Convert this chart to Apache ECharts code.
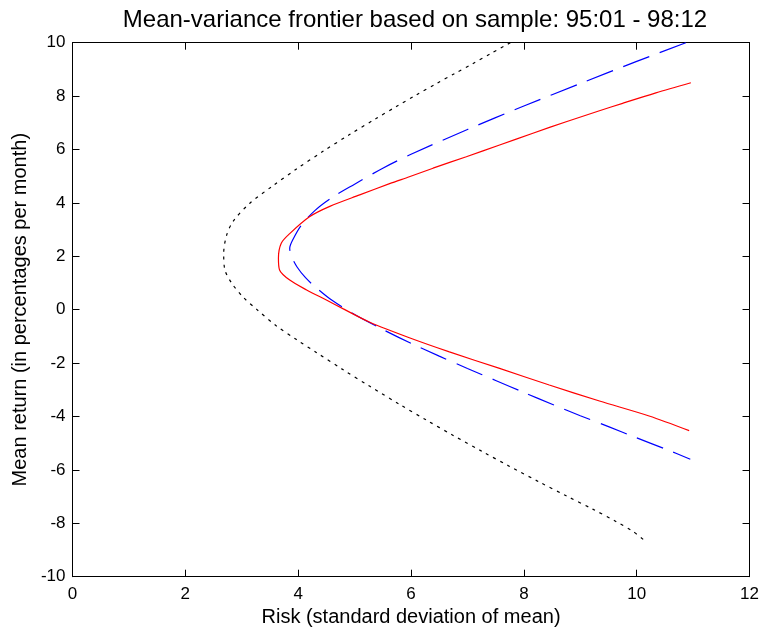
<!DOCTYPE html>
<html>
<head>
<meta charset="utf-8">
<script src="https://cdn.jsdelivr.net/npm/echarts@6/dist/echarts.min.js"></script>
<style>
html,body{margin:0;padding:0;background:#fff;}
#chart{width:762px;height:636px;}
</style>
</head>
<body>
<div id="chart"></div>
<script>
// ---- Data ----
var titleText = "Mean-variance frontier based on sample: 95:01 - 98:12";
var xAxisTitle = "Risk (standard deviation of mean)";
var yAxisTitle = "Mean return (in percentages per month)";

var xTicks = [0, 2, 4, 6, 8, 10, 12];
var yTicks = [-10, -8, -6, -4, -2, 0, 2, 4, 6, 8, 10];

// red solid frontier
var redX = [10.96, 10.34, 9.75, 9.34, 8.75, 8.16, 7.57, 6.98, 6.39, 5.97, 5.62, 5.09, 4.56, 4.2, 3.85, 3.70, 3.65, 3.67, 3.85, 4.15, 4.5, 4.8, 5.27, 5.97, 6.68, 7.57, 8.45, 9.34, 10.22, 10.93];
var redY = [8.5, 8.12, 7.73, 7.45, 7.04, 6.61, 6.17, 5.73, 5.3, 4.98, 4.72, 4.3, 3.87, 3.48, 2.85, 2.49, 1.93, 1.49, 1.11, 0.74, 0.36, 0.03, -0.47, -1.05, -1.58, -2.2, -2.82, -3.42, -3.98, -4.53];

// blue dashed frontier
var blueX = [10.87, 10.0, 9.0, 8.0, 7.0, 6.0, 5.5, 5.0, 4.6, 4.3, 4.05, 3.9, 3.85, 3.88, 3.98, 4.13, 4.31, 4.6, 5.0, 5.5, 6.0, 6.5, 7.0, 7.5, 8.0, 8.5, 9.0, 9.5, 10.0, 10.5, 10.95];
var blueY = [10.0, 9.3, 8.47, 7.63, 6.75, 5.82, 5.3, 4.7, 4.2, 3.72, 3.15, 2.6, 2.3, 2.0, 1.6, 1.2, 0.84, 0.35, -0.18, -0.74, -1.26, -1.74, -2.2, -2.65, -3.1, -3.54, -3.97, -4.38, -4.8, -5.21, -5.6];

// black dotted frontier
var blackX = [7.76, 7.42, 7.09, 6.77, 6.45, 6.09, 5.74, 5.38, 4.91, 4.44, 3.97, 3.55, 3.14, 2.85, 2.73, 2.68, 2.7, 2.82, 3.02, 3.26, 3.61, 3.97, 4.32, 4.79, 5.27, 5.8, 6.27, 6.74, 7.27, 7.74, 8.27, 8.75, 9.22, 9.63, 9.93, 10.13];
var blackY = [10.0, 9.6, 9.21, 8.84, 8.47, 8.04, 7.61, 7.16, 6.56, 5.93, 5.27, 4.64, 3.98, 3.32, 2.78, 2.11, 1.5, 1.0, 0.48, 0.02, -0.6, -1.12, -1.6, -2.24, -2.87, -3.55, -4.13, -4.7, -5.32, -5.86, -6.45, -6.97, -7.47, -7.93, -8.3, -8.63];

function pairs(xs, ys) { return xs.map(function (x, i) { return [x, ys[i]]; }); }

var FONT = "'Liberation Sans', Arial, sans-serif";
var axisColor = '#000';

function xAx(pos, labels) {
  return {
    type: 'value', position: pos, min: xTicks[0], max: xTicks[xTicks.length - 1], interval: 2,
    name: labels ? xAxisTitle : '', nameLocation: 'middle', nameGap: 30,
    nameTextStyle: { fontFamily: FONT, fontSize: 20, color: '#000' },
    axisLine: { show: true, onZero: false, lineStyle: { color: axisColor, width: 1 } },
    axisTick: { show: true, inside: true, length: 7, lineStyle: { color: axisColor } },
    axisLabel: { show: labels, margin: 9, fontFamily: FONT, fontSize: 17, color: '#000' },
    splitLine: { show: false }
  };
}
function yAx(pos, labels) {
  return {
    type: 'value', position: pos, min: yTicks[0], max: yTicks[yTicks.length - 1], interval: 2,
    name: labels ? yAxisTitle : '', nameLocation: 'middle', nameGap: 40,
    nameTextStyle: { fontFamily: FONT, fontSize: 20, color: '#000' },
    axisLine: { show: true, onZero: false, lineStyle: { color: axisColor, width: 1 } },
    axisTick: { show: true, inside: true, length: 7, lineStyle: { color: axisColor } },
    axisLabel: { show: labels, margin: 7, fontFamily: FONT, fontSize: 17, color: '#000' },
    splitLine: { show: false }
  };
}

var chart = echarts.init(document.getElementById('chart'), null, { renderer: 'canvas' });
chart.setOption({
  animation: false,
  backgroundColor: '#fff',
  title: {
    text: titleText, left: 410, top: 3, textAlign: 'center',
    textStyle: { fontFamily: FONT, fontSize: 24, fontWeight: 'normal', color: '#000' }
  },
  grid: { left: 72.5, right: 11, top: 42.7, bottom: 59.3, containLabel: false },
  xAxis: [xAx('bottom', true), xAx('top', false)],
  yAxis: [yAx('left', true), yAx('right', false)],
  series: [
    { name: 'black', type: 'line', xAxisIndex: 0, yAxisIndex: 0, data: pairs(blackX, blackY),
      showSymbol: false, smooth: 0.3, lineStyle: { color: '#000', width: 1.2, type: [3, 5] } },
    { name: 'blue', type: 'line', xAxisIndex: 0, yAxisIndex: 0, data: pairs(blueX, blueY),
      showSymbol: false, smooth: 0.3, lineStyle: { color: '#0000ff', width: 1.2, type: [28, 11] } },
    { name: 'red', type: 'line', xAxisIndex: 0, yAxisIndex: 0, data: pairs(redX, redY),
      showSymbol: false, smooth: 0.3, lineStyle: { color: '#ff0000', width: 1.2 } }
  ]
});
</script>
</body>
</html>
